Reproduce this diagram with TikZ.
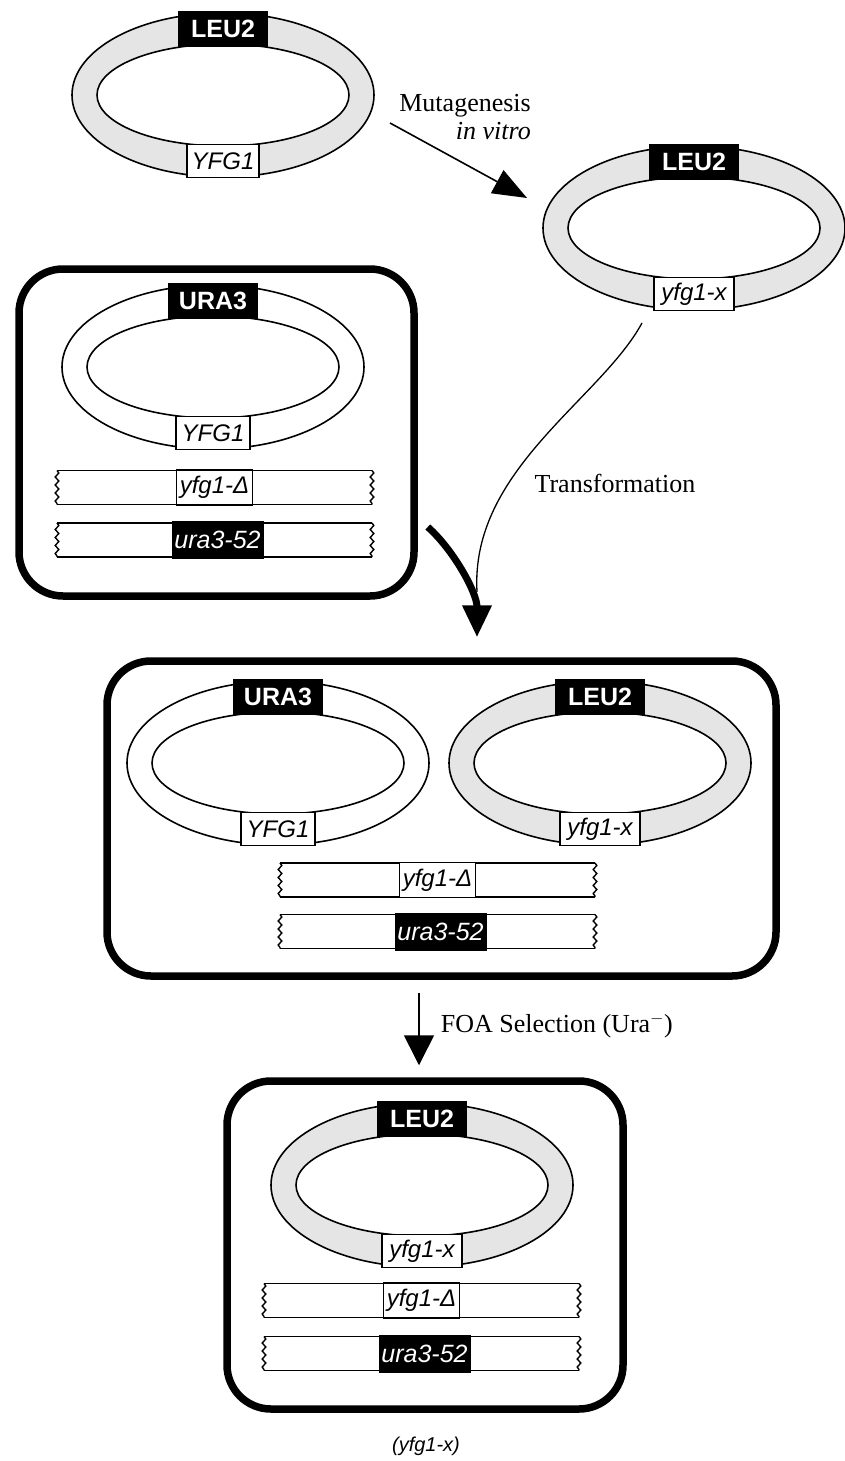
\documentclass[tikz,border=0pt]{standalone}
\usepackage{fontspec}
\setmainfont{Liberation Serif}
\setsansfont{Liberation Sans}
\usetikzlibrary{arrows.meta, decorations.pathmorphing}
\definecolor{ringgrey}{gray}{0.9}
\tikzstyle{ring}=[line width=1.6pt]
\tikzstyle{topgene}=[rectangle, fill=black, draw=black, line width=1.2pt, text=white, minimum width=88, minimum height=34, inner sep=0, font=\sffamily\bfseries\fontsize{25}{27}\selectfont]
\tikzstyle{botgene}=[rectangle, fill=white, draw=black, line width=1.2pt, minimum height=33, inner sep=0, font=\sffamily\itshape\fontsize{24}{26}\selectfont]
\tikzstyle{deltagene}=[botgene, minimum width=76, minimum height=35]
\tikzstyle{uragene}=[rectangle, fill=black, text=white, minimum width=92, minimum height=38, inner sep=0, xshift=3pt, font=\sffamily\itshape\fontsize{25}{27}\selectfont]
\tikzstyle{cell}=[rectangle, draw, line width=7.5pt, rounded corners=44pt, inner sep=0]
\tikzstyle{wavy}=[decorate, decoration={snake, amplitude=1.8pt, segment length=8pt}]
\tikzstyle{note}=[font=\fontsize{26}{28}\selectfont, inner sep=0]
\tikzstyle{thinarrow}=[line width=1.6pt, -{Triangle[length=34pt,width=26pt]}]
\tikzstyle{midarrow}=[line width=1.6pt, -{Triangle[length=30pt,width=30pt]}]
\tikzstyle{fatarrow}=[line width=7pt, -{Triangle[length=32pt,width=28pt]}]

% plasmid: name, centre, ring colour, top gene, bottom gene, bottom box width
\newcommand{\plasmid}[6]{
\coordinate (#1) at #2;
\fill[#3, even odd rule] (#1) ellipse [x radius=151, y radius=82] (#1) ellipse [x radius=126, y radius=51];
\draw[ring] (#1) ellipse [x radius=151, y radius=82] (#1) ellipse [x radius=126, y radius=51];
\node[topgene] (#1-top) at ([yshift=66pt]#1) {#4};
\node[botgene, minimum width=#6] (#1-bot) at ([yshift=-66pt]#1) {#5};
}

% chromosome piece: name, centre, gene style, gene text
\newcommand{\chrom}[4]{
\coordinate (#1) at #2;
\draw[ring] ([shift={(-157.5,-17)}]#1) -- ([shift={(157.5,-17)}]#1)
 ([shift={(-157.5,17)}]#1) -- ([shift={(157.5,17)}]#1);
\draw[line width=1.4pt, wavy] ([shift={(-157.5,-17)}]#1) -- ([shift={(-157.5,17)}]#1);
\draw[line width=1.4pt, wavy] ([shift={(157.5,-17)}]#1) -- ([shift={(157.5,17)}]#1);
\node[#3] (#1-gene) at (#1) {#4};
}

\begin{document}
\begin{tikzpicture}[x=1pt,y=-1pt]
\path[use as bounding box, fill=white] (0,0) rectangle (845,1461);

% cells
\node[cell, minimum width=395, minimum height=327] (cella) at (216.5,432.5) {};
\node[cell, minimum width=669, minimum height=315] (cellb) at (441.5,818.5) {};
\node[cell, minimum width=396, minimum height=328] (cellc) at (425,1245) {};

% plasmids
\plasmid{pa}{(223,95)}{ringgrey}{LEU2}{YFG1}{72}
\plasmid{pb}{(694,228)}{ringgrey}{LEU2}{yfg1-x}{80}
\plasmid{pc}{(213,367)}{white}{URA3}{YFG1}{74}
\plasmid{pd}{(278,763)}{white}{URA3}{YFG1}{74}
\plasmid{pe}{(600,763)}{ringgrey}{LEU2}{yfg1-x}{80}
\plasmid{pf}{(422,1185)}{ringgrey}{LEU2}{yfg1-x}{80}

% chromosomes
\foreach \nm/\x/\y/\z in {a/214.5/487.5/540, b/437.5/880/931.5, c/421.5/1300.5/1353.5}{
\chrom{\nm-del}{(\x,\y)}{deltagene}{yfg1-Δ}
\chrom{\nm-ura}{(\x,\z)}{uragene}{ura3-52}
}

% mutagenesis
\coordinate (mu-a) at (390,123);
\coordinate (mu-b) at (527,198);
\draw[thinarrow] (mu-a) -- (mu-b);
\node[note, anchor=east, align=right] (mutlabel) at (531,117) {Mutagenesis\\\textit{in vitro}};

% transformation
\draw[fatarrow] ([xshift=10pt,yshift=-94.5pt]cella.east) .. controls +(25,22) and +(0,-45) .. ([xshift=35.5pt,yshift=20pt]cellb.north);
\coordinate (tr-a) at (642,323);
\coordinate (tr-b) at (477,592);
\draw[line width=1.3pt] (tr-a) .. controls (600,400) and (470,470) .. (tr-b);
\node[note] (trlabel) at (615,483) {Transformation};

% selection
\draw[midarrow, shorten <=13pt, shorten >=12pt] ([xshift=-22.5pt]cellb.south) -- ([xshift=-22.5pt]cellb.south |- cellc.north)
 node[note, midway, anchor=west, xshift=21pt, yshift=3pt] (foa) {FOA Selection (Ura$^-$)};

\node[font=\sffamily\itshape\fontsize{20}{22}\selectfont] (result) at (426,1446) {(yfg1-x)};
\end{tikzpicture}
\end{document}
